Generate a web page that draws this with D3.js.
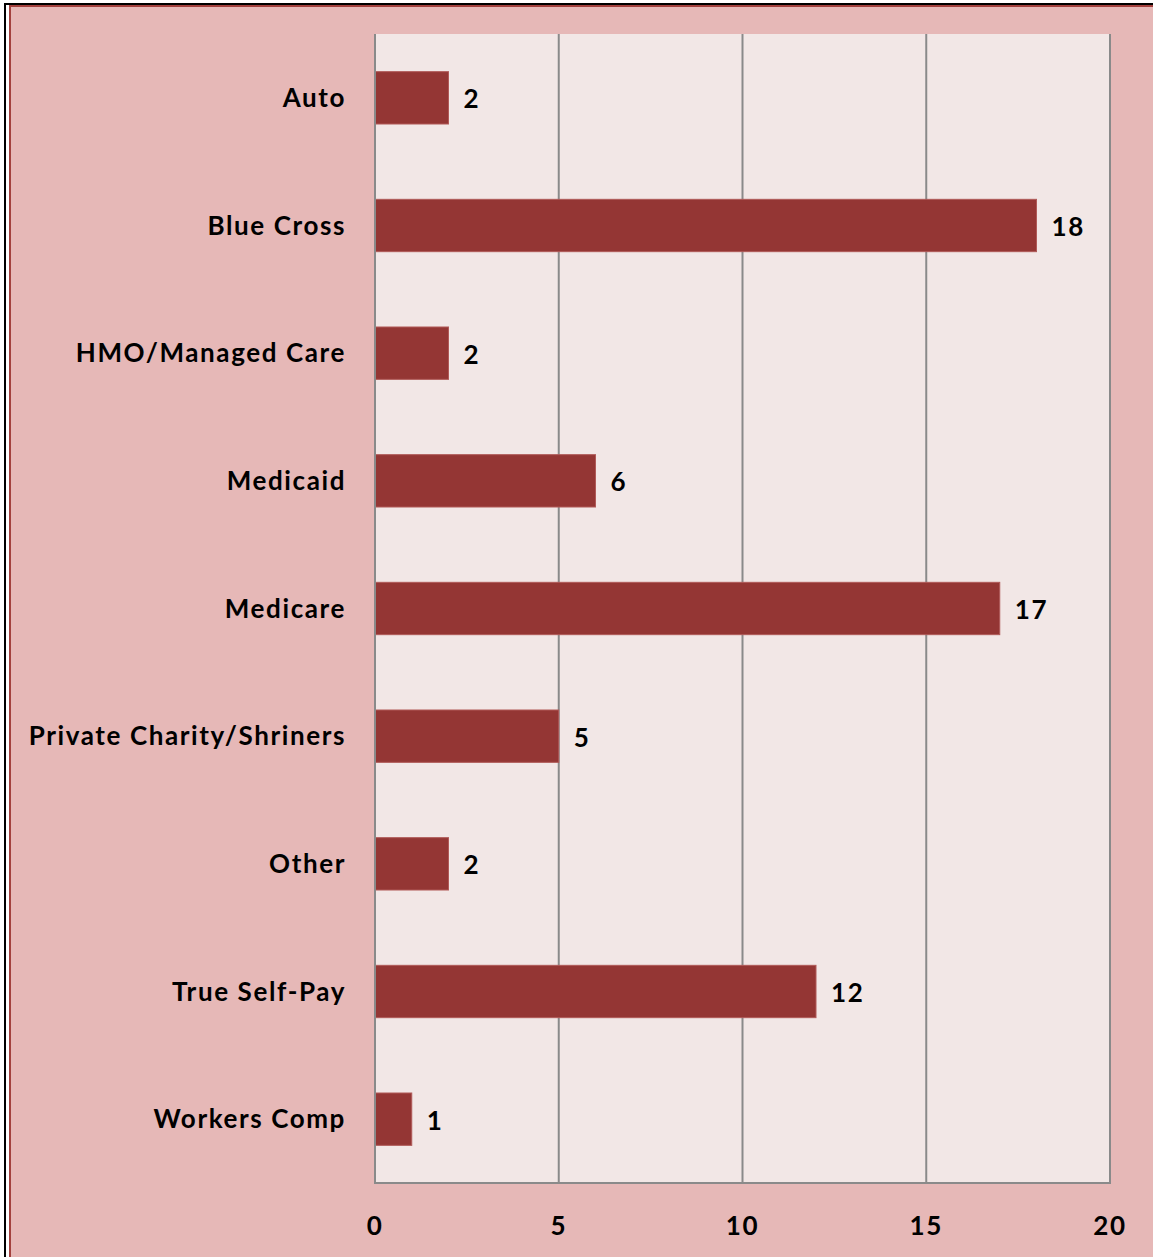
<!DOCTYPE html>
<html>
<head>
<meta charset="utf-8">
<script src="https://d3js.org/d3.v7.min.js"></script>
<style>
  body { margin: 0; background: #fff; }
  text { font-family: Lato, "Open Sans", sans-serif; font-weight: bold; fill: #000; letter-spacing: 1.6px; }
</style>
</head>
<body>
<svg width="1153" height="1257"></svg>
<script>
var categories = ["Auto", "Blue Cross", "HMO/Managed Care", "Medicaid", "Medicare",
                  "Private Charity/Shriners", "Other", "True Self-Pay", "Workers Comp"];
var values = [2, 18, 2, 6, 17, 5, 2, 12, 1];
var ticks = [0, 5, 10, 15, 20];

var svg = d3.select("svg"),
    width = +svg.attr("width"),
    height = +svg.attr("height");

var margin = {top: 34, right: 43, bottom: 74, left: 375};

// outer frame
svg.append("rect")
    .attr("x", 5).attr("y", 4)
    .attr("width", width).attr("height", height)
    .attr("fill", "#fff")
    .attr("stroke", "#000")
    .attr("stroke-width", 2);

svg.append("rect")
    .attr("x", 10).attr("y", 6)
    .attr("width", width).attr("height", height)
    .attr("fill", "#e6b8b7")
    .attr("stroke", "#a3403d")
    .attr("stroke-width", 2);

var x = d3.scaleLinear()
    .domain([0, 20])
    .range([margin.left, width - margin.right]);

var y = d3.scaleBand()
    .domain(categories)
    .range([margin.top, height - margin.bottom])
    .paddingInner(0.59)
    .paddingOuter(0.295);

// plot area
svg.append("rect")
    .attr("x", x(0)).attr("y", margin.top)
    .attr("width", x(20) - x(0))
    .attr("height", height - margin.bottom - margin.top)
    .attr("fill", "#f2e7e6");

// gridlines
svg.append("g").selectAll("line")
    .data(ticks.slice(1))
    .enter().append("line")
      .attr("x1", function(d) { return x(d); })
      .attr("x2", function(d) { return x(d); })
      .attr("y1", margin.top)
      .attr("y2", height - margin.bottom)
      .attr("stroke", "#8a8a8a")
      .attr("stroke-width", 2);

// bars
svg.append("g").selectAll("rect")
    .data(values)
    .enter().append("rect")
      .attr("x", x(0))
      .attr("y", function(d, i) { return y(categories[i]); })
      .attr("width", function(d) { return x(d) - x(0); })
      .attr("height", y.bandwidth())
      .attr("fill", "#943634")
      .attr("stroke", "#b05a58")
      .attr("stroke-width", 1);

// value labels
svg.append("g").selectAll("text")
    .data(values)
    .enter().append("text")
      .attr("x", function(d) { return x(d) + 15; })
      .attr("y", function(d, i) { return y(categories[i]) + y.bandwidth() / 2; })
      .attr("dy", "0.4em")
      .style("font-size", "26px")
      .text(function(d) { return d; });

// axes lines
svg.append("line")
    .attr("x1", x(0)).attr("x2", x(0))
    .attr("y1", margin.top).attr("y2", height - margin.bottom)
    .attr("stroke", "#8a8a8a").attr("stroke-width", 2);
svg.append("line")
    .attr("x1", x(0) - 1).attr("x2", x(20) + 1)
    .attr("y1", height - margin.bottom).attr("y2", height - margin.bottom)
    .attr("stroke", "#8a8a8a").attr("stroke-width", 2);

// category labels
svg.append("g").selectAll("text")
    .data(categories)
    .enter().append("text")
      .attr("x", x(0) - 29)
      .attr("y", function(d) { return y(d) + y.bandwidth() / 2; })
      .attr("dy", "0.35em")
      .attr("text-anchor", "end")
      .style("font-size", "26px")
      .text(function(d) { return d; });

// x tick labels
svg.append("g").selectAll("text")
    .data(ticks)
    .enter().append("text")
      .attr("x", function(d) { return x(d); })
      .attr("y", height - margin.bottom + 43)
      .attr("dy", "0.35em")
      .attr("text-anchor", "middle")
      .style("font-size", "26px")
      .text(function(d) { return d; });
</script>
</body>
</html>
